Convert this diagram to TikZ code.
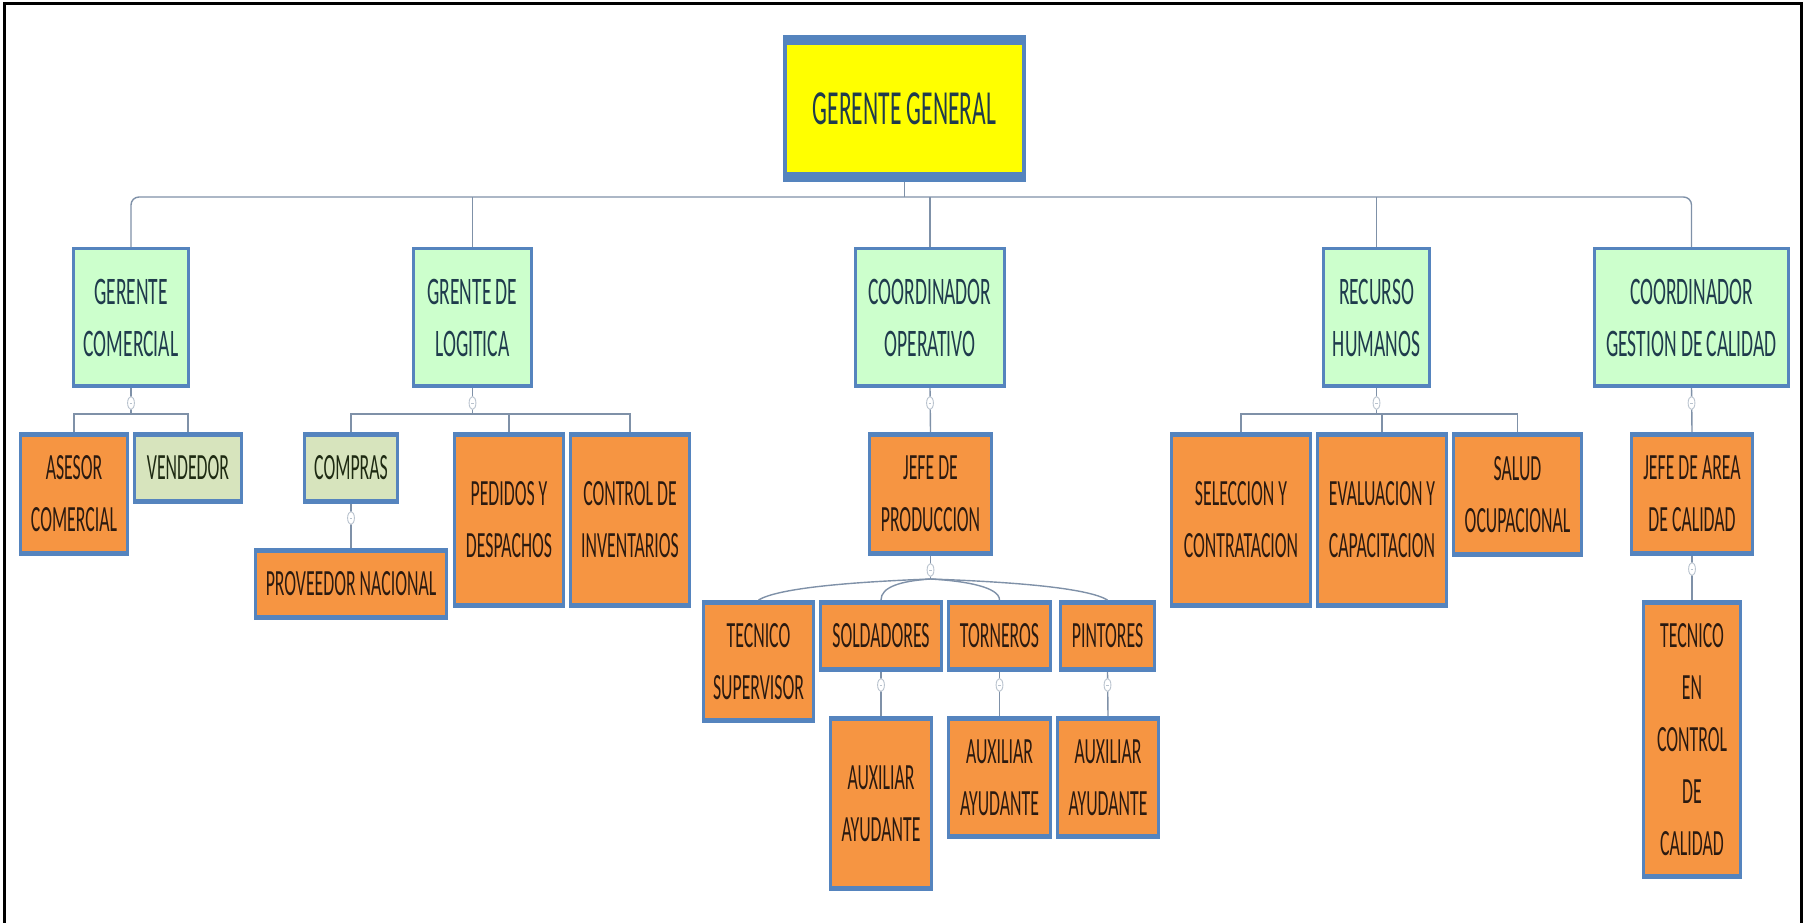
\documentclass[tikz,border=0pt]{standalone}
\usepackage{fontspec}
\setmainfont{Carlito}
\usepackage{graphicx}
\usetikzlibrary{calc}

\definecolor{bd}{HTML}{5584BE}
\definecolor{orangefill}{HTML}{F69542}
\definecolor{mintfill}{HTML}{CCFFCC}
\definecolor{palegreen}{HTML}{D7E4BD}
\definecolor{topyellow}{HTML}{FFFF00}
\definecolor{headtext}{HTML}{1F3B4C}
\definecolor{orangetext}{HTML}{2B1A10}
\definecolor{greentext}{HTML}{1E2A12}
\definecolor{conncol}{HTML}{7F91A8}
\definecolor{knobcol}{HTML}{B9C3CE}

% horizontally condensed lines of text
\newcommand{\sq}[1]{\scalebox{0.48}[1]{#1}}
\newcommand{\sqh}[1]{\scalebox{0.5}[1]{#1}}

% inner panel of a box, inset from the blue frame
\newcommand{\inset}[5]{\fill[#1] ([xshift=#2,yshift=-#3]path picture bounding box.north west) rectangle ([xshift=-#2,yshift=#4]path picture bounding box.south east);}

\tikzset{
  box/.style={inner sep=0pt, outer sep=0pt, align=center, fill=bd},
  topbox/.style={box, text=headtext, font=\fontsize{49}{60}\selectfont,
    path picture={\inset{topyellow}{4pt}{10pt}{10pt}{}}},
  headbox/.style={box, text=headtext, font=\fontsize{39}{52}\selectfont,
    path picture={\inset{mintfill}{3pt}{3pt}{4pt}{}}},
  orangebox/.style={box, text=orangetext, font=\fontsize{37}{52}\selectfont,
    path picture={\inset{orangefill}{3pt}{5pt}{5pt}{}}},
  greenbox/.style={box, text=greentext, font=\fontsize{37}{52}\selectfont,
    path picture={\inset{palegreen}{3pt}{5pt}{5pt}{}}},
  conn/.style={draw=conncol, line width=1.4pt},
  knob/.style={draw=knobcol, fill=white, line width=0.9pt},
}

% box given by its corners: name, style, x1, y1, x2, y2, text
\newcommand{\orgnode}[7]{%
  \node[#2, minimum width={#5-#3}, minimum height={#6-#4}] (#1) at ({(#3+#5)/2},{(#4+#6)/2}) {#7};}

% collapse marker on a connector
\newcommand{\knob}[1]{%
  \filldraw[knob] (#1) ellipse [x radius=3.4pt, y radius=6.5pt];
  \draw[draw=knobcol, line width=0.8pt] ($(#1)+(-1.4,0)$) -- ($(#1)+(1.4,0)$);}

\begin{document}
\begin{tikzpicture}[x=1pt, y=-1pt]
\useasboundingbox (0,0) rectangle (1806,923);

% outer frame
\draw[line width=3pt, black] (4.5,935) -- (4.5,3.5) -- (1801.5,3.5) -- (1801.5,935);

% top and first level
\orgnode{gg}{topbox}{783}{35}{1026}{182}{\sq{GERENTE GENERAL}}
\orgnode{gc}{headbox}{72}{247}{190}{388}{\sqh{GERENTE}\\\sqh{COMERCIAL}}
\orgnode{gl}{headbox}{412}{247}{533}{388}{\sqh{GRENTE DE}\\\sqh{LOGITICA}}
\orgnode{co}{headbox}{854}{247}{1006}{388}{\sqh{COORDINADOR}\\\sqh{OPERATIVO}}
\orgnode{rh}{headbox}{1322}{247}{1431}{388}{\sqh{RECURSO}\\\sqh{HUMANOS}}
\orgnode{cg}{headbox}{1593}{247}{1790}{388}{\sqh{COORDINADOR}\\\sqh{GESTION DE CALIDAD}}

% comercial branch
\orgnode{asesor}{orangebox}{19}{432}{129}{556}{\sq{ASESOR}\\\sq{COMERCIAL}}
\orgnode{vend}{greenbox}{133}{432}{243}{504}{\sq{VENDEDOR}}

% logistics branch
\orgnode{compras}{greenbox}{303}{432}{399}{504}{\sq{COMPRAS}}
\orgnode{prov}{orangebox}{254}{548}{448}{620}{\sq{PROVEEDOR NACIONAL}}
\orgnode{ped}{orangebox}{453}{432}{565}{608}{\sq{PEDIDOS Y}\\\sq{DESPACHOS}}
\orgnode{ctrl}{orangebox}{569}{432}{691}{608}{\sq{CONTROL DE}\\\sq{INVENTARIOS}}

% operations branch
\orgnode{jp}{orangebox}{868}{432}{993}{556}{\sq{JEFE DE}\\\sq{PRODUCCION}}
\orgnode{tec}{orangebox}{702}{600}{815}{723}{\sq{TECNICO}\\\sq{SUPERVISOR}}
\orgnode{sold}{orangebox}{819}{600}{943}{672}{\sq{SOLDADORES}}
\orgnode{torn}{orangebox}{947}{600}{1052}{672}{\sq{TORNEROS}}
\orgnode{pint}{orangebox}{1059}{600}{1156}{672}{\sq{PINTORES}}
\orgnode{auxa}{orangebox}{829}{716}{933}{891}{\sq{AUXILIAR}\\\sq{AYUDANTE}}
\orgnode{auxb}{orangebox}{947}{716}{1052}{839}{\sq{AUXILIAR}\\\sq{AYUDANTE}}
\orgnode{auxc}{orangebox}{1056}{716}{1160}{839}{\sq{AUXILIAR}\\\sq{AYUDANTE}}

% human resources branch
\orgnode{sel}{orangebox}{1170}{432}{1312}{608}{\sq{SELECCION Y}\\\sq{CONTRATACION}}
\orgnode{eva}{orangebox}{1316}{432}{1448}{608}{\sq{EVALUACION Y}\\\sq{CAPACITACION}}
\orgnode{salud}{orangebox}{1452}{432}{1583}{557}{\sq{SALUD}\\\sq{OCUPACIONAL}}

% quality branch
\orgnode{ja}{orangebox}{1630}{432}{1754}{556}{\sq{JEFE DE AREA}\\\sq{DE CALIDAD}}
\orgnode{tcc}{orangebox}{1642}{600}{1742}{879}{\sq{TECNICO}\\\sq{EN}\\\sq{CONTROL}\\\sq{DE}\\\sq{CALIDAD}}

% main bar under the general manager
\coordinate (bar) at (905,197);
\draw[conn, rounded corners=8pt] (gc.north) |- (bar) -| (cg.north);
\draw[conn] (gg.south) -- (gg.south |- bar);
\draw[conn, rounded corners=5pt] (gl.north) -- (gl.north |- bar);
\draw[conn, rounded corners=5pt] (co.north) -- (co.north |- bar);
\draw[conn, rounded corners=5pt] (rh.north) -- (rh.north |- bar);

% comercial
\coordinate (gcbar) at ($(gc.south)+(0,26)$);
\draw[conn] (gc.south) -- (gcbar);
\draw[conn] (asesor.north) |- (gcbar) -| (vend.north);
\knob{$(gc.south)+(0,15)$}

% logistics
\coordinate (glbar) at ($(gl.south)+(0,26)$);
\draw[conn] (gl.south) -- (glbar);
\draw[conn] (compras.north) |- (glbar) -| (ctrl.north);
\draw[conn] (ped.north) -- (ped.north |- glbar);
\knob{$(gl.south)+(0,15)$}
\draw[conn] (compras.south) -- (prov.north);
\knob{$(compras.south)+(0,14)$}

% operations
\draw[conn] (co.south) -- (jp.north);
\knob{$(co.south)+(0,15)$}
\coordinate (fan) at ($(jp.south)+(0,23)$);
\draw[conn] (jp.south) -- (fan);
\draw[conn] (fan) .. controls +(-80,3) and +(20,-12) .. (tec.north);
\draw[conn] (fan) .. controls +(-30,2) and +(0,-13) .. (sold.north);
\draw[conn] (fan) .. controls +(35,2) and +(0,-13) .. (torn.north);
\draw[conn] (fan) .. controls +(85,3) and +(-20,-12) .. (pint.north);
\knob{$(jp.south)+(0,14)$}
\draw[conn] (sold.south) -- (auxa.north);
\draw[conn] (torn.south) -- (auxb.north);
\draw[conn] (pint.south) -- (auxc.north);
\knob{$(sold.south)+(0,13)$}
\knob{$(torn.south)+(0,13)$}
\knob{$(pint.south)+(0,13)$}

% human resources
\coordinate (rhbar) at ($(rh.south)+(0,26)$);
\draw[conn] (rh.south) -- (rhbar);
\draw[conn] (sel.north) |- (rhbar) -| (salud.north);
\draw[conn] (eva.north) -- (eva.north |- rhbar);
\knob{$(rh.south)+(0,15)$}

% quality
\draw[conn] (cg.south) -- (ja.north);
\knob{$(cg.south)+(0,15)$}
\draw[conn] (ja.south) -- (tcc.north);
\knob{$(ja.south)+(0,13)$}
\end{tikzpicture}
\end{document}
